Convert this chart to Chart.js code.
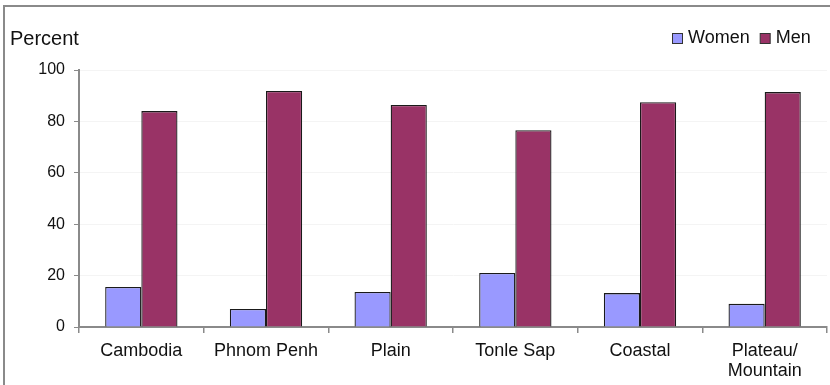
<!DOCTYPE html>
<html>
<head>
<meta charset="utf-8">
<script src="https://cdn.jsdelivr.net/npm/chart.js@4"></script>
<style>
  html, body { margin: 0; padding: 0; background: #fff; }
  #wrap { position: relative; width: 830px; height: 385px; box-sizing: border-box; }
  #frame { position: absolute; left: 3px; top: 5px; right: 0; bottom: 0; border-left: 2px solid #8a8a8a; border-top: 2px solid #8a8a8a; pointer-events: none; }
  canvas { display: block; }
</style>
</head>
<body>
<div id="wrap">
  <canvas id="c" width="830" height="385"></canvas>
  <div id="frame"></div>
</div>
<script>
// Share of women and men, by region (percent)
const regions = ["Cambodia", "Phnom Penh", "Plain", "Tonle Sap", "Coastal", ["Plateau/", "Mountain"]];
const women = [15.6, 7.0, 13.6, 21.0, 13.2, 9.0];
const men = [84.0, 91.8, 86.4, 76.6, 87.5, 91.4];
const yTicks = [0, 20, 40, 60, 80, 100];
const seriesNames = ["Women", "Men"];
const seriesColors = ["#9999ff", "#993366"];

const FONT = "'Liberation Sans', Arial, sans-serif";

// Axis caption and legend drawn on the canvas
const decorations = {
  id: "decorations",
  afterDraw(chart) {
    const ctx = chart.ctx;
    ctx.save();
    ctx.fillStyle = "#111";
    ctx.textBaseline = "middle";
    ctx.font = "20px " + FONT;
    ctx.textAlign = "left";
    ctx.fillText("Percent", 10, 39);

    ctx.font = "18px " + FONT;
    let x = 672;
    seriesNames.forEach((name, i) => {
      ctx.fillStyle = seriesColors[i];
      ctx.fillRect(x + 0.5, 33.5, 10, 10);
      ctx.strokeStyle = "#333";
      ctx.lineWidth = 1;
      ctx.strokeRect(x + 0.5, 33.5, 10, 10);
      ctx.fillStyle = "#111";
      ctx.fillText(name, x + 16, 38);
      x += 16 + ctx.measureText(name).width + 10;
    });
    ctx.restore();
  }
};

new Chart(document.getElementById("c"), {
  type: "bar",
  data: {
    labels: regions,
    datasets: [
      { label: seriesNames[0], data: women, backgroundColor: seriesColors[0], borderColor: "#1a1a1a", borderWidth: 1.3 },
      { label: seriesNames[1], data: men, backgroundColor: seriesColors[1], borderColor: "#1a1a1a", borderWidth: 1.3 }
    ]
  },
  options: {
    responsive: false,
    animation: false,
    devicePixelRatio: 1,
    layout: { padding: { left: 3, right: 3, top: 70, bottom: 3 } },
    plugins: { legend: { display: false }, tooltip: { enabled: false } },
    datasets: { bar: { categoryPercentage: 0.58, barPercentage: 1.0 } },
    scales: {
      x: {
        grid: { display: true, drawOnChartArea: false, offset: true, tickLength: 6, tickColor: "#8a8a8a", lineWidth: 1.5 },
        border: { color: "#8a8a8a", width: 2 },
        ticks: { color: "#111", font: { family: FONT, size: 18, lineHeight: 1.1 }, padding: 8, maxRotation: 0, autoSkip: false },
        afterFit(s) { s.height = 55; }
      },
      y: {
        min: 0,
        max: 100,
        afterBuildTicks(s) { s.ticks = yTicks.map(v => ({ value: v })); },
        grid: { color: "#f4f4f4", tickColor: "#8a8a8a", tickLength: 5, lineWidth: 1 },
        border: { color: "#8a8a8a", width: 2 },
        ticks: { color: "#111", font: { family: FONT, size: 16 }, padding: 9 },
        afterFit(s) { s.width = 76; }
      }
    }
  },
  plugins: [decorations]
});
</script>
</body>
</html>
